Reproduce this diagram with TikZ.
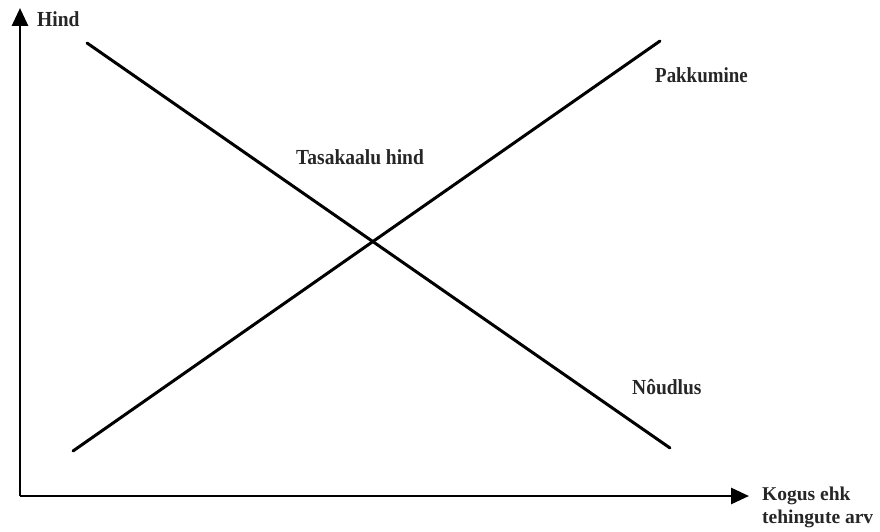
\documentclass[tikz,border=0pt]{standalone}
\usepackage{fontspec}
\setmainfont{Liberation Serif}
\usetikzlibrary{arrows.meta}
\begin{document}
\begin{tikzpicture}[x=1pt,y=-1pt,
  axis/.style={line width=2.8pt,-{Triangle[length=18pt,width=16pt]}},
  curve/.style={line width=3pt,line cap=round},
  lbl/.style={font=\fontsize{19.5}{22}\selectfont\bfseries,inner sep=0pt,text=black!85}]
\useasboundingbox (0,0) rectangle (880,532);
\coordinate (O) at (20,496);
\coordinate (ytop) at (20,8);
\coordinate (xend) at (749,496);
\draw[axis] (O) -- (ytop);
\draw[axis] (O) -- (xend);
\coordinate (d1) at (87,43);
\coordinate (d2) at (670,448);
\coordinate (s1) at (73,451);
\coordinate (s2) at (660,41);
\draw[curve] (d1) -- (d2);
\draw[curve] (s1) -- (s2);
\node[lbl,anchor=west,yscale=1.1] (hind) at (37,19) {Hind};
\node[lbl,anchor=west,yscale=1.1,xscale=0.97] (pak) at (655,75) {Pakkumine};
\node[lbl,anchor=west,yscale=1.1] (tas) at (296,157) {Tasakaalu hind};
\node[lbl,anchor=west,yscale=1.1] (nou) at (632,387) {Nôudlus};
\node[lbl,anchor=north west,align=left,font=\fontsize{19.5}{23}\selectfont\bfseries] (kog) at (762,487) {Kogus ehk\\tehingute arv};
\end{tikzpicture}
\end{document}
